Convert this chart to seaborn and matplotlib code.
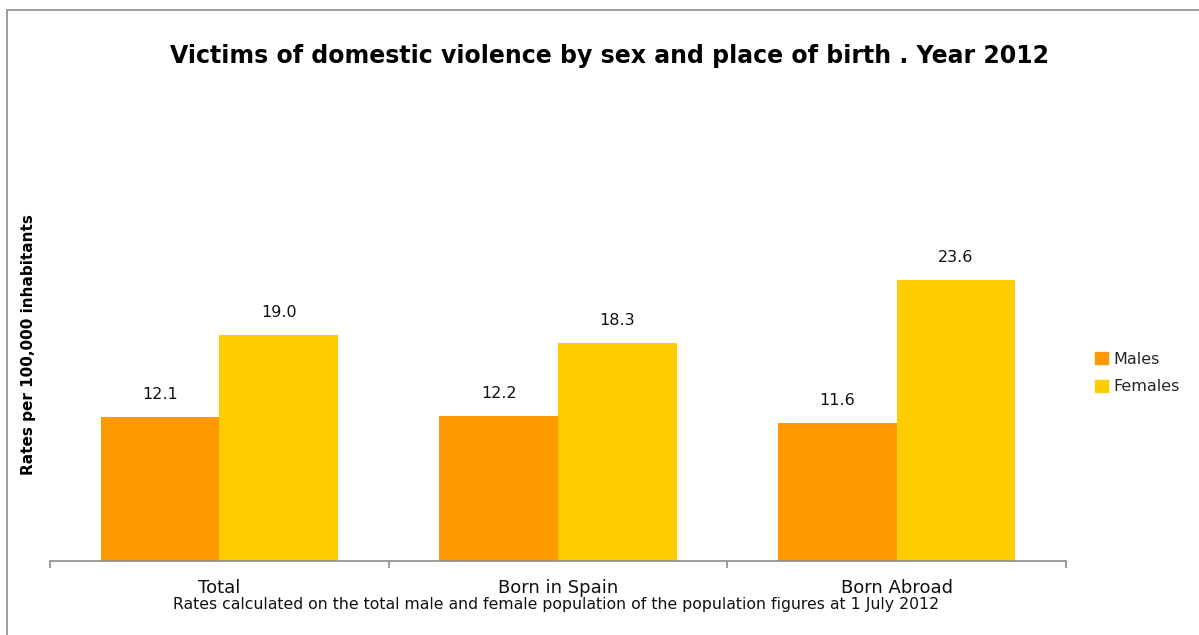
import pandas as pd
import seaborn as sns
import matplotlib.pyplot as plt
from matplotlib.patches import Rectangle

# data
places = ["Total", "Born in Spain", "Born Abroad"]
males = [12.1, 12.2, 11.6]
females = [19.0, 18.3, 23.6]
sexes = ["Males", "Females"]
colors = ["#FF9900", "#FFCC00"]

df = pd.DataFrame({
    "place": places * 2,
    "sex": [sexes[0]] * 3 + [sexes[1]] * 3,
    "rate": males + females,
})

sns.set_style("white")
plt.rcParams['font.family'] = ['DejaVu Sans']

W, H = 1199, 635
fig = plt.figure(figsize=(W / 100, H / 100), dpi=100)

# grey frame round the chart, like the spreadsheet chart area
fig.patches.append(Rectangle((7 / W, -0.1), 1.2, (H - 10) / H + 0.1,
                             transform=fig.transFigure, fill=False,
                             edgecolor="#8c8c8c", linewidth=1.2))

ax = fig.add_axes([50 / W, (H - 561) / H, (1066 - 50) / W, (561 - 145) / H])
sns.barplot(data=df, x="place", y="rate", hue="sex", order=places,
            hue_order=sexes, palette=colors, width=0.7, saturation=1,
            linewidth=0, ax=ax, legend=False)

ax.set_ylim(0, 35)
ax.set_xlim(-0.5, 2.5)
for c in ax.containers:
    ax.bar_label(c, fmt="%.1f", padding=11, fontsize=11.5, color="#111111")

for s in ["top", "right", "left"]:
    ax.spines[s].set_visible(False)
ax.spines["bottom"].set_color("#8c8c8c")
ax.spines["bottom"].set_linewidth(1.2)
ax.set_yticks([])
ax.set_xticks([-0.5, 0.5, 1.5, 2.5], minor=True)
ax.tick_params(axis="x", which="minor", length=5, color="#8c8c8c", width=1.2, bottom=True)
ax.tick_params(axis="x", which="major", length=0, pad=13, labelsize=13, labelcolor="#111111")
ax.set_xlabel("")
ax.set_ylabel("")

fig.text(29 / W, (H - 345) / H, "Rates per 100,000 inhabitants", rotation=90,
         ha="center", va="center", fontsize=11, fontweight="bold", color="black")
fig.text(609 / W, (H - 56) / H,
         "Victims of domestic violence by sex and place of birth . Year 2012",
         ha="center", va="center", fontsize=17, fontweight="bold", color="black")
fig.text(556 / W, (H - 605) / H,
         "Rates calculated on the total male and female population of the population figures at 1 July 2012",
         ha="center", va="center", fontsize=11.3, color="#111111")

handles = [Rectangle((0, 0), 1, 1, color=c) for c in colors]
fig.legend(handles, sexes, loc="center left", bbox_to_anchor=(1081 / W, (H - 373) / H),
           frameon=False, fontsize=11.5, handlelength=0.8, handleheight=0.8,
           handletextpad=0.3, labelspacing=0.8)

fig.savefig("out.png", dpi=100)
